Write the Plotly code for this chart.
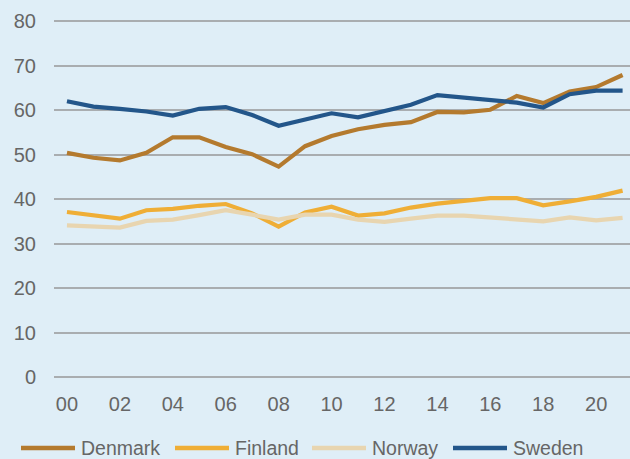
import plotly.graph_objects as go

# Annual values, 2000-2021
years = list(range(2000, 2022))
denmark = [50.4, 49.3, 48.7, 50.4, 53.9, 53.9, 51.7, 50.1, 47.3, 51.9,
           54.2, 55.7, 56.7, 57.3, 59.6, 59.5, 60.1, 63.2, 61.6, 64.2, 65.2, 67.9]
finland = [37.1, 36.3, 35.6, 37.5, 37.8, 38.5, 38.9, 36.8, 33.8, 37.0,
           38.3, 36.3, 36.8, 38.1, 39.0, 39.6, 40.2, 40.2, 38.6, 39.5, 40.5, 41.9]
norway = [34.1, 33.8, 33.6, 35.1, 35.4, 36.4, 37.5, 36.5, 35.4, 36.5,
          36.5, 35.4, 34.9, 35.6, 36.3, 36.3, 35.8, 35.4, 35.0, 35.9, 35.2, 35.8]
sweden = [62.0, 60.8, 60.3, 59.7, 58.8, 60.3, 60.7, 58.9, 56.5, 57.9,
          59.3, 58.4, 59.7, 61.2, 63.4, 62.8, 62.1, 61.7, 60.6, 63.6, 64.4, 64.4]

x_tick_years = list(range(2000, 2021, 2))
x_tick_text = [f"{y % 100:02d}" for y in x_tick_years]
y_ticks = list(range(0, 81, 10))

series = [
    ("Denmark", denmark, "#b47a2e"),
    ("Finland", finland, "#efae36"),
    ("Norway", norway, "#e8d5b0"),
    ("Sweden", sweden, "#23568a"),
]

W, H = 630, 459
M = dict(l=54, r=0, t=19, b=82)
BG = "#dfeef7"
TEXT = "#666666"
GRID = "#a9adb0"
FONT = "Liberation Sans, Arial, sans-serif"

fig = go.Figure()
for name, vals, color in series:
    fig.add_trace(go.Scatter(
        x=years, y=vals, name=name, mode="lines",
        line=dict(color=color, width=4.2), showlegend=False,
    ))

# Legend row below the axis: swatch line + label for each series
plot_w = W - M["l"] - M["r"]
plot_h = H - M["t"] - M["b"]


def px_to_paper(px, py):
    return (px - M["l"]) / plot_w, (H - M["b"] - py) / plot_h


legend_starts = [21, 175, 312, 453]
swatch_len = 54
legend_y = 448
for (name, _, color), x0 in zip(series, legend_starts):
    ax0, ay = px_to_paper(x0, legend_y)
    ax1, _ = px_to_paper(x0 + swatch_len, legend_y)
    tx, _ = px_to_paper(x0 + swatch_len + 4, legend_y)
    fig.add_shape(type="line", xref="paper", yref="paper",
                  x0=ax0, x1=ax1, y0=ay, y1=ay,
                  line=dict(color=color, width=4.5))
    fig.add_annotation(xref="paper", yref="paper", x=tx, y=ay,
                       xanchor="left", yanchor="middle", showarrow=False,
                       text=name, font=dict(family=FONT, size=19.5, color=TEXT))

fig.update_layout(
    width=W, height=H,
    margin=M,
    paper_bgcolor=BG, plot_bgcolor=BG,
    font=dict(family=FONT, size=20, color=TEXT),
    showlegend=False,
    xaxis=dict(
        range=[1999.51, 2021.28], tickvals=x_tick_years, ticktext=x_tick_text,
        showgrid=False, zeroline=False, showline=False, ticks="",
        ticklabelstandoff=13, tickfont=dict(size=20, color=TEXT),
    ),
    yaxis=dict(
        range=[0, 80.5], tickvals=y_ticks, showgrid=True, gridcolor=GRID,
        gridwidth=1.5, zeroline=True, zerolinecolor=GRID, zerolinewidth=2,
        showline=False, ticks="", ticklabelstandoff=17,
        tickfont=dict(size=20, color=TEXT),
    ),
)

fig.write_html("out.html")
